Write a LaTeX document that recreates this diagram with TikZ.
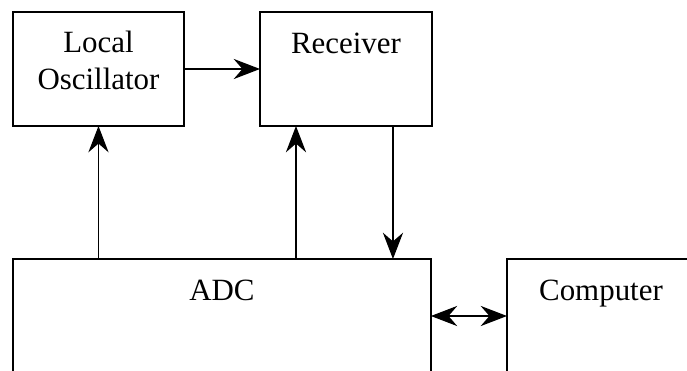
\documentclass[tikz,border=0pt]{standalone}
\usepackage{fontspec}
\setmainfont{Liberation Serif}
\usetikzlibrary{arrows.meta}

\begin{document}
\begin{tikzpicture}[x=0.02cm,y=-0.02cm,
  >={Stealth[length=15pt,width=11.5pt,inset=5pt]},
  blk/.style={draw,line width=1pt,minimum height=2.28cm,inner sep=0pt,outer sep=0pt,anchor=north west},
  lbl/.style={inner sep=0pt,anchor=base,align=center,font=\fontsize{17.6}{20.8}\selectfont},
  sig/.style={line width=0.65pt}]
  \useasboundingbox (0,0) rectangle (687,370);
  \clip (0,0) rectangle (687,370);
  % blocks
  \node[blk,minimum width=3.42cm] (lo) at (13,12) {};
  \node[blk,minimum width=3.44cm] (rx) at (260,12) {};
  \node[blk,minimum width=8.36cm] (adc) at (13,259) {};
  \node[blk,minimum width=3.76cm] (pc) at (507,259) {};
  % labels
  \node[lbl] (lotxt) at ([yshift=-1.55cm]lo.north) {Local\\Oscillator};
  \node[lbl] (rxtxt) at ([yshift=-0.82cm]rx.north) {Receiver};
  \node[lbl] (adctxt) at ([yshift=-0.82cm]adc.north) {ADC};
  \node[lbl] (pctxt) at ([yshift=-0.82cm]pc.north) {Computer};
  % signals
  \coordinate (rxin) at ([xshift=-1cm]rx.south);
  \coordinate (rxout) at ([xshift=0.94cm]rx.south);
  \draw[sig,->] (lo.east) -- (rx.west);
  \draw[sig,->] (adc.north -| lo.south) -- (lo.south);
  \draw[sig,->] (adc.north -| rxin) -- (rxin);
  \draw[sig,->] (rxout) -- (adc.north -| rxout);
  \draw[sig,<->] (adc.east) -- (pc.west);
\end{tikzpicture}
\end{document}
